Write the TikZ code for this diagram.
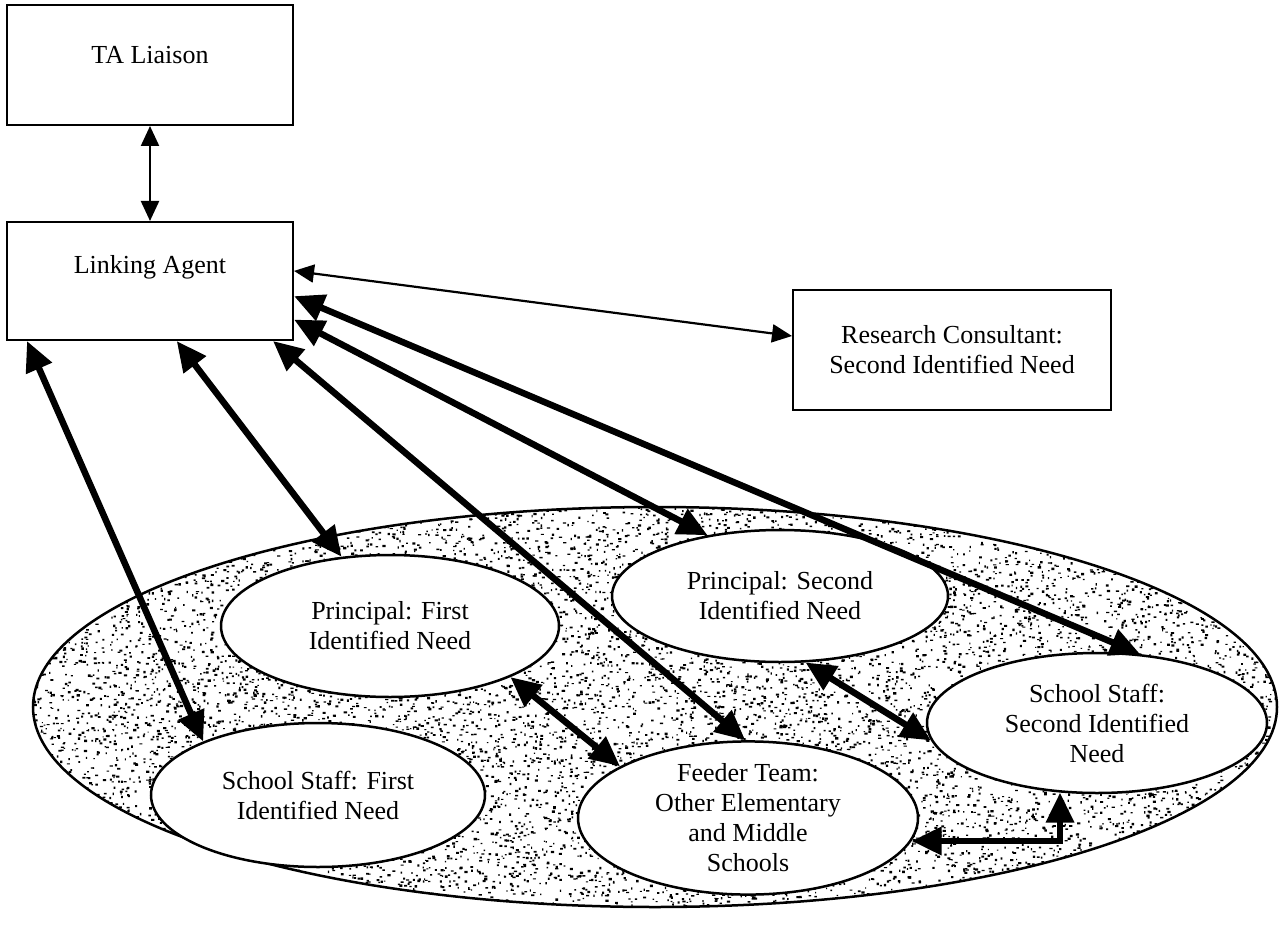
\documentclass[tikz,border=0pt]{standalone}
\usepackage{fontspec}
\setmainfont{Liberation Serif}
\usetikzlibrary{arrows.meta,shapes.geometric,calc}

\tikzset{
  box/.style={draw, line width=2pt, rectangle, inner sep=0pt, align=center},
  oval/.style={draw, line width=2.5pt, ellipse, fill=white, inner sep=0pt, align=center},
  thin link/.style={line width=2.2pt, {Triangle[length=20pt,width=18pt]}-{Triangle[length=20pt,width=18pt]}},
  thick link/.style={line width=6.5pt, {Triangle[length=30pt,width=27pt]}-{Triangle[length=30pt,width=27pt]}},
  every node/.append style={font=\fontsize{26}{30}\selectfont},
}

\begin{document}
\begin{tikzpicture}[x=1pt,y=-1pt]
\useasboundingbox (0,0) rectangle (1279,936);

% stippled school area
\path[fill=white] (655,707) ellipse [x radius=622, y radius=200];
\pgfmathsetseed{4711}
\begin{scope}
  \clip (655,707) ellipse [x radius=622, y radius=200];
  \foreach \c in {1,...,25} {
    \fill[black] foreach \k in {1,...,500} {
      ({655+622*rand},{707+200*rand}) rectangle ++({1.1+2.2*rnd},{1+1.5*rnd})
    };
  }
\end{scope}
\node[oval, fill=none, minimum width=1244pt, minimum height=400pt] (school) at (655,707) {};

% boxes
\node[box, minimum width=286pt, minimum height=120pt] (ta) at (150,65) {};
\node at (150,55) {TA Liaison};
\node[box, minimum width=286pt, minimum height=118pt] (la) at (150,281) {};
\node at (150,267) {Linking Agent};
\node[box, minimum width=318pt, minimum height=120pt] (rc) at (952,350) {Research Consultant:\\Second Identified Need};

% needs inside the school
\node[oval, minimum width=338pt, minimum height=142pt] (pf) at (390,626) {Principal: First\\Identified Need};
\node[oval, minimum width=336pt, minimum height=132pt] (ps) at (780,596) {Principal: Second\\Identified Need};
\node[oval, minimum width=334pt, minimum height=144pt] (ssf) at (318,795) {School Staff: First\\Identified Need};
\node[oval, minimum width=340pt, minimum height=144pt] (ft) at (748,818) {Feeder Team:\\Other Elementary\\and Middle\\Schools};
\node[oval, minimum width=340pt, minimum height=140pt] (sss) at (1097,723) {School Staff:\\Second Identified\\Need};

% links
\draw[thin link] (ta.south) -- (la.north);
\draw[thin link] (la.4.4) -- (rc.175.7);
\draw[thick link] (la.206.6) -- (ssf.155);
\draw[thick link] (la.294.6) -- (pf.125.5);
\draw[thick link] (la.334.2) -- (ft.92.4);
\draw[thick link] (la.345.5) -- (ps.140.2);
\draw[thick link] (la.354) -- (sss.58.4);
\draw[thick link] (pf.337.3) -- (ft.158.1);
\draw[thick link] (ps.291.3) -- (sss.186);
\draw[thick link] (ft.352.4) -| (sss.242.1);
\end{tikzpicture}
\end{document}
